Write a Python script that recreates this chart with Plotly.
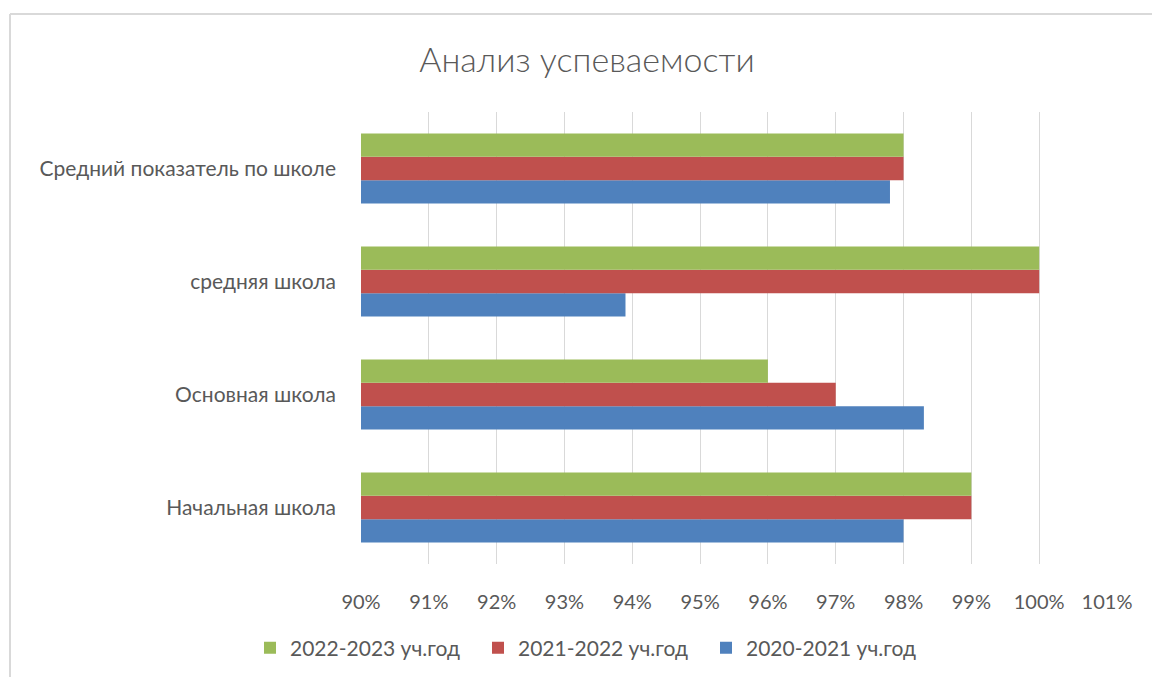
import plotly.graph_objects as go

categories = ["Начальная школа", "Основная школа", "средняя школа", "Средний показатель по школе"]
series_names = ["2020-2021 уч.год", "2021-2022 уч.год", "2022-2023 уч.год"]
v_2020_2021 = [0.98, 0.983, 0.939, 0.978]
v_2021_2022 = [0.99, 0.97, 1.00, 0.98]
v_2022_2023 = [0.99, 0.96, 1.00, 0.98]
tick_vals = [0.90, 0.91, 0.92, 0.93, 0.94, 0.95, 0.96, 0.97, 0.98, 0.99, 1.00, 1.01]
tick_text = ["90%", "91%", "92%", "93%", "94%", "95%", "96%", "97%", "98%", "99%", "100%", "101%"]
colors = ["#4F81BD", "#C0504D", "#9BBB59"]

FONT = "Lato, 'Open Sans', sans-serif"

fig = go.Figure()
for name, vals, col in zip(series_names, [v_2020_2021, v_2021_2022, v_2022_2023], colors):
    fig.add_trace(go.Bar(y=categories, x=vals, name=name, orientation="h",
                         marker=dict(color=col, line=dict(width=0))))

W, H = 1152, 677
L, R, T, B = 361, 45, 112, 113
pw, ph = W - L - R, H - T - B

def px_to_paper_x(px):
    return (px - L) / pw

def px_to_paper_y(py):
    return (H - B - py) / ph

fig.update_layout(
    width=W, height=H,
    margin=dict(l=L, r=R, t=T, b=B),
    paper_bgcolor="white", plot_bgcolor="white",
    barmode="group", bargap=0.38, bargroupgap=0,
    title=dict(text="Анализ успеваемости", x=587 / W, xanchor="center",
               y=1 - 60 / H, yanchor="middle",
               font=dict(family=FONT, size=34, color="#595959", weight=300)),
    xaxis=dict(range=[0.90, 1.01], tickvals=tick_vals, ticktext=tick_text,
               showgrid=True, gridcolor="#D9D9D9", gridwidth=1, zeroline=False,
               showline=False, ticks="", ticklabelstandoff=24,
               tickfont=dict(family=FONT, size=20, color="#595959")),
    yaxis=dict(showgrid=False, showline=False, ticks="", ticklabelstandoff=24,
               tickfont=dict(family=FONT, size=21, color="#595959")),
    legend=dict(orientation="h", traceorder="reversed",
                xref="container", yref="container",
                x=250 / W, xanchor="left",
                y=1 - 648 / H, yanchor="middle",
                font=dict(family=FONT, size=21, color="#595959"),
                itemwidth=30, entrywidth=183, entrywidthmode="pixels"),
    showlegend=True,
)

fig.add_shape(type="line", xref="paper", yref="paper",
              x0=px_to_paper_x(10), x1=px_to_paper_x(10),
              y0=px_to_paper_y(14), y1=px_to_paper_y(700),
              line=dict(color="#D9D9D9", width=2))
fig.add_shape(type="line", xref="paper", yref="paper",
              x0=px_to_paper_x(10), x1=px_to_paper_x(1200),
              y0=px_to_paper_y(14), y1=px_to_paper_y(14),
              line=dict(color="#D9D9D9", width=2))

fig.write_html("out.html", config={"displayModeBar": False},
               post_script="document.body.style.margin='0';")
